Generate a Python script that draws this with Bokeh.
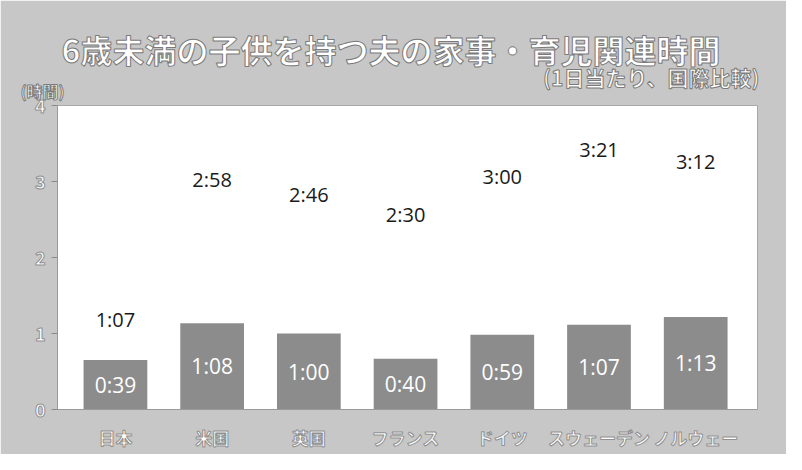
from bokeh.plotting import figure
from bokeh.models import Range1d, FixedTicker, ColumnDataSource, Title
from bokeh.core.properties import value
from bokeh.embed import file_html
from bokeh.resources import INLINE

# ---- data ----
countries = ["日本", "米国", "英国", "フランス", "ドイツ", "スウェーデン", "ノルウェー"]
total_labels = ["1:07", "2:58", "2:46", "2:30", "3:00", "3:21", "3:12"]       # 家事・育児関連時間
childcare_labels = ["0:39", "1:08", "1:00", "0:40", "0:59", "1:07", "1:13"]   # うち育児時間
y_ticks = [0, 1, 2, 3, 4]
title_text = "6歳未満の子供を持つ夫の家事・育児関連時間"
subtitle_text = "(1日当たり、国際比較)"
unit_text = "(時間)"

def to_hours(s):
    h, m = s.split(":")
    return int(h) + int(m) / 60.0

total_hours = [to_hours(s) for s in total_labels]
childcare_hours = [to_hours(s) for s in childcare_labels]
xs = list(range(len(countries)))

src = ColumnDataSource(dict(
    x=xs, total=total_hours, care=childcare_hours,
    care_mid=[v / 2 for v in childcare_hours],
    total_lbl=total_labels, care_lbl=childcare_labels,
))

BG = "#c7c7c7"
OUT = "#909090"
OUT_T = "#7a7a7a"
JP = "Noto Sans CJK JP"

p = figure(width=786, height=454, output_backend="svg", toolbar_location=None,
           x_range=Range1d(-0.599, 6.639), y_range=Range1d(0, 4),
           min_border_left=57, min_border_right=29, min_border_top=105, min_border_bottom=45)
p.border_fill_color = BG
p.background_fill_color = "white"
p.outline_line_color = "#a8a8a8"
p.grid.visible = False
p.title.visible = False

p.vbar(x="x", top="care", width=0.659, source=src, fill_color="#8c8c8c", line_color=None)

p.text(x="x", y="total", text="total_lbl", source=src, text_align="center",
       text_baseline="alphabetic", y_offset=-5, text_font=value("Open Sans"),
       text_font_size="20px", text_color="#1a1a1a")
p.text(x="x", y="care_mid", text="care_lbl", source=src, text_align="center",
       text_baseline="middle", text_font=value("Open Sans"),
       text_font_size="21px", text_color="white")

ya = p.yaxis[0]
ya.ticker = FixedTicker(ticks=y_ticks)
ya.axis_line_color = "#9a9a9a"
ya.major_tick_line_color = "#8a8a8a"
ya.major_tick_in = 0
ya.major_tick_out = 6
ya.minor_tick_line_color = None
ya.major_label_standoff = 6
ya.major_label_text_font = JP
ya.major_label_text_font_size = "18px"
ya.major_label_text_font_style = "bold"
ya.major_label_text_color = "white"
ya.major_label_text_outline_color = OUT

xa = p.xaxis[0]
xa.ticker = FixedTicker(ticks=xs)
xa.major_label_overrides = {i: c for i, c in zip(xs, countries)}
xa.axis_line_color = "#9a9a9a"
xa.major_tick_line_color = None
xa.minor_tick_line_color = None
xa.major_label_standoff = 9
xa.major_label_text_font = JP
xa.major_label_text_font_size = "17px"
xa.major_label_text_font_style = "bold"
xa.major_label_text_color = "white"
xa.major_label_text_outline_color = OUT

# header texts stacked in the "above" panel (first added = nearest the frame)
p.add_layout(Title(text=unit_text, align="left", offset=-37, standoff=5,
                   text_font=JP, text_font_size="16px", text_font_style="bold",
                   text_color="white", text_outline_color=OUT_T), "above")
p.add_layout(Title(text=subtitle_text, align="right", offset=-2, standoff=-34,
                   text_font=JP, text_font_size="21px", text_font_style="bold",
                   text_color="white", text_outline_color=OUT_T), "above")
p.add_layout(Title(text=title_text, align="left", offset=4, standoff=6,
                   text_font=JP, text_font_size="32px", text_font_style="bold",
                   text_color="white", text_outline_color=OUT_T), "above")

open("out.html", "w").write(file_html(p, INLINE))
